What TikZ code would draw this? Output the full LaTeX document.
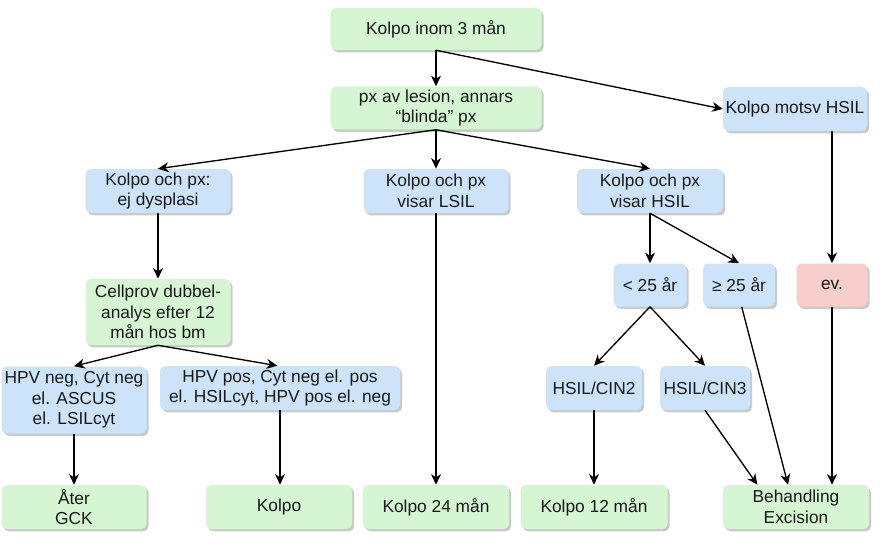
\documentclass[tikz,border=0pt]{standalone}
\usepackage{fontspec}
\setmainfont{Liberation Sans}
\usetikzlibrary{arrows.meta,shadows,calc}
\definecolor{gfill}{HTML}{D5F5D3}
\definecolor{bfill}{HTML}{CCE3FA}
\definecolor{pfill}{HTML}{F8CECC}
\tikzset{
  box/.style 2 args={draw=none, rounded corners=4pt, align=center, inner sep=1pt,
    minimum width=#1*0.75pt, minimum height=#2*0.75pt,
    font=\fontsize{13}{15.5}\selectfont, text=black!90,
    drop shadow={shadow xshift=1.6pt, shadow yshift=-1.8pt, opacity=0.35, fill=black!60}},
  gbox/.style 2 args={box={#1}{#2}, fill=gfill},
  bbox/.style 2 args={box={#1}{#2}, fill=bfill},
  pbox/.style 2 args={box={#1}{#2}, fill=pfill},
  arr/.style={draw=black, line width=1pt, -{Stealth[length=8pt,width=7.5pt,inset=2.5pt]}},
}
\begin{document}
\begin{tikzpicture}[x=0.75pt,y=-0.75pt]
\useasboundingbox (0,0) rectangle (880,552);
\node[gbox={211}{42}] (top) at (436,29) {Kolpo inom 3 mån};
\node[gbox={211}{43}] (px) at (436,108) {px av lesion, annars\\“blinda” px};
\node[bbox={144}{44}] (motsv) at (795,109) {Kolpo motsv HSIL};
\node[bbox={145}{44}] (ejd) at (158,191) {Kolpo och px:\\ej dysplasi};
\node[bbox={145}{44}] (lsil) at (436,191) {Kolpo och px\\visar LSIL};
\node[bbox={146}{44}] (hsil) at (650,191) {Kolpo och px\\visar HSIL};
\node[bbox={73}{43}] (u25) at (650,285) {< 25 år};
\node[bbox={72}{43}] (o25) at (739,285) {≥ 25 år};
\node[pbox={71}{43}] (ev) at (832,285) {ev.};
\node[gbox={145}{66}] (cell) at (158,312) {Cellprov dubbel-\\analys efter 12\\mån hos bm};
\node[bbox={145}{67}] (hpvneg) at (74,400) {HPV neg, Cyt neg\\el. ASCUS\\el. LSILcyt};
\node[bbox={240}{44}] (hpvpos) at (280,388) {HPV pos, Cyt neg el. pos\\el. HSILcyt, HPV pos el. neg};
\node[bbox={96}{44}] (cin2) at (594,388) {HSIL/CIN2};
\node[bbox={90}{44}] (cin3) at (705,388) {HSIL/CIN3};
\node[gbox={145}{44}] (ater) at (74,507) {Åter\\GCK};
\node[gbox={146}{44}] (kolpo) at (279,507) {Kolpo};
\node[gbox={146}{44}] (k24) at (436,507) {Kolpo 24 mån};
\node[gbox={147}{44}] (k12) at (594,507) {Kolpo 12 mån};
\node[gbox={146}{44}] (beh) at (796,507) {Behandling\\Excision};

\draw[arr] (top.south) -- (px.north);
\draw[arr] (top.south) -- (motsv.west);
\draw[arr] (px.south) -- (ejd.north);
\draw[arr] (px.south) -- (lsil.north);
\draw[arr] (px.south) -- (hsil.north);
\draw[arr] (ejd.south) -- (cell.north);
\draw[arr] (lsil.south) -- (k24.north);
\draw[arr] (hsil.south) -- (u25.north);
\draw[arr] (hsil.south) -- (o25.north);
\draw[arr] (motsv.south -| ev.north) -- (ev.north);
\draw[arr] (ev.south) -- (ev.south |- beh.north);
\draw[arr] (u25.south) -- (cin2.north);
\draw[arr] (u25.south) -- (cin3.north);
\draw[arr] (cin2.south) -- (k12.north);
\draw[arr] (cin3.south) -- ([xshift=-29pt]beh.north);
\draw[arr] ([xshift=2pt]o25.south) -- ([xshift=-6pt]beh.north);
\draw[arr] (cell.south) -- (hpvneg.north);
\draw[arr] (cell.south) -- ([xshift=-2pt]hpvpos.north);
\draw[arr] (hpvneg.south) -- (ater.north);
\draw[arr] (hpvpos.south) -- (hpvpos.south |- kolpo.north);
\end{tikzpicture}
\end{document}
